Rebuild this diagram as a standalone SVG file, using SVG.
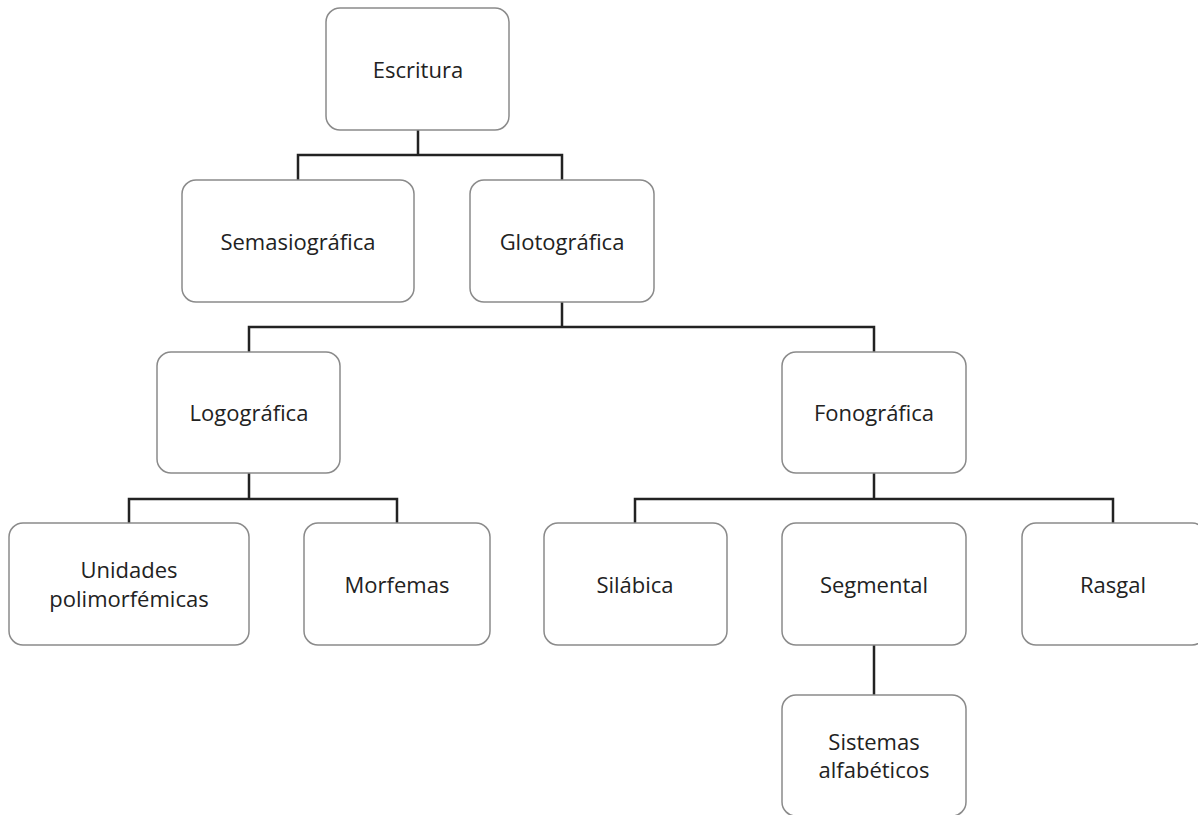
<svg xmlns="http://www.w3.org/2000/svg" width="1198" height="815" viewBox="0 0 1198 815">
<style>
.box{fill:#fff;stroke:#8a8a8a;stroke-width:1.5}
.lbl{font-family:"Open Sans","Noto Sans",sans-serif;font-size:22px;fill:#222;text-anchor:middle;dominant-baseline:central}
.con{fill:none;stroke:#222;stroke-width:2.5}
</style>
<rect width="1198" height="815" fill="#fff"/>
<g id="connectors">
<path class="con" d="M418 130V155M298 180V155H562V180"/>
<path class="con" d="M562 302V327M249 352V327H874V352"/>
<path class="con" d="M249 473V499M129 523V499H397V523"/>
<path class="con" d="M874 473V499M635 523V499H1113V523"/>
<path class="con" d="M874 645V695"/>
</g>
<g id="escritura"><rect class="box" x="326" y="8" width="183" height="122" rx="14"/><text class="lbl" x="418" y="69">Escritura</text></g>
<g id="semasiografica"><rect class="box" x="182" y="180" width="232" height="122" rx="14"/><text class="lbl" x="298" y="241">Semasiográfica</text></g>
<g id="glotografica"><rect class="box" x="470" y="180" width="184" height="122" rx="14"/><text class="lbl" x="562" y="241">Glotográfica</text></g>
<g id="logografica"><rect class="box" x="157" y="352" width="183" height="121" rx="14"/><text class="lbl" x="249" y="412">Logográfica</text></g>
<g id="fonografica"><rect class="box" x="782" y="352" width="184" height="121" rx="14"/><text class="lbl" x="874" y="412">Fonográfica</text></g>
<g id="unidades"><rect class="box" x="9" y="523" width="240" height="122" rx="14"/><text class="lbl" x="129" y="569">Unidades</text><text class="lbl" x="129" y="598">polimorfémicas</text></g>
<g id="morfemas"><rect class="box" x="304" y="523" width="186" height="122" rx="14"/><text class="lbl" x="397" y="584">Morfemas</text></g>
<g id="silabica"><rect class="box" x="544" y="523" width="183" height="122" rx="14"/><text class="lbl" x="635" y="584">Silábica</text></g>
<g id="segmental"><rect class="box" x="782" y="523" width="184" height="122" rx="14"/><text class="lbl" x="874" y="584">Segmental</text></g>
<g id="rasgal"><rect class="box" x="1022" y="523" width="184" height="122" rx="14"/><text class="lbl" x="1113" y="584">Rasgal</text></g>
<g id="sistemas"><rect class="box" x="782" y="695" width="184" height="121" rx="14"/><text class="lbl" x="874" y="741">Sistemas</text><text class="lbl" x="874" y="769">alfabéticos</text></g>
</svg>
